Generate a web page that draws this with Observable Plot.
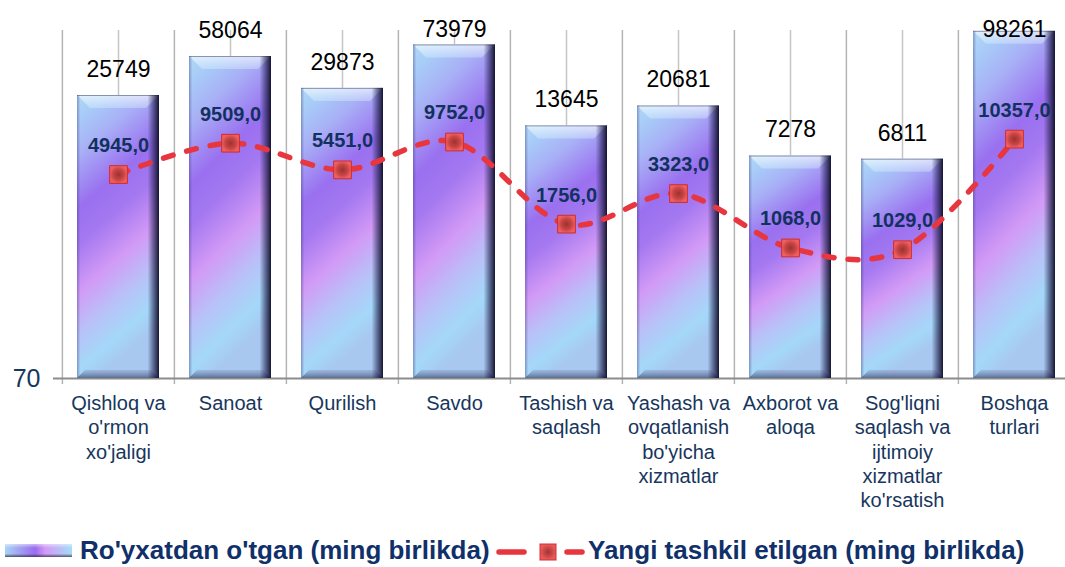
<!DOCTYPE html>
<html><head><meta charset="utf-8">
<script src="https://cdn.jsdelivr.net/npm/d3@7"></script>
<script src="https://cdn.jsdelivr.net/npm/@observablehq/plot@0.6"></script>
<style>
html,body{margin:0;padding:0;background:#fff;}
#wrap{position:relative;width:1065px;height:567px;overflow:hidden;font-family:"Liberation Sans",Arial,sans-serif;}
#chart{position:absolute;left:0;top:0;}
.lg{position:absolute;white-space:nowrap;font-weight:bold;font-size:26px;color:#10306a;line-height:1;}
</style></head><body>
<div id="wrap"><div id="chart"></div>
<svg class="lgsym" style="position:absolute;left:5px;top:543px" width="70" height="16">
  <defs><linearGradient id="lgBar" x1="0" y1="0" x2="1" y2="0">
    <stop offset="0" stop-color="#a8d4f4"/><stop offset="0.45" stop-color="#9a6cf0"/><stop offset="0.6" stop-color="#d49af6"/><stop offset="1" stop-color="#a4dcf8"/></linearGradient>
  <linearGradient id="lgShade" x1="0" y1="0" x2="0" y2="1"><stop offset="0" stop-color="#fff" stop-opacity="0.5"/><stop offset="0.3" stop-color="#fff" stop-opacity="0"/><stop offset="0.75" stop-color="#223" stop-opacity="0"/><stop offset="1" stop-color="#223" stop-opacity="0.7"/></linearGradient></defs>
  <rect x="0" y="1" width="67" height="13" fill="url(#lgBar)"/><rect x="0" y="1" width="67" height="13" fill="url(#lgShade)"/>
</svg>
<div class="lg" style="left:80px;top:537px">Ro'yxatdan o'tgan (ming birlikda)</div>
<svg style="position:absolute;left:494px;top:541px" width="95" height="24">
  <defs><radialGradient id="lgMk"><stop offset="0" stop-color="#a03434"/><stop offset="1" stop-color="#ec5a5a"/></radialGradient></defs>
  <line x1="5" y1="11" x2="30" y2="11" stroke="#e8363e" stroke-width="5.5" stroke-linecap="round"/>
  <line x1="73" y1="11" x2="88" y2="11" stroke="#e8363e" stroke-width="5.5" stroke-linecap="round"/>
  <rect x="46" y="3" width="16" height="16" fill="url(#lgMk)" stroke="#d43030"/>
</svg>
<div class="lg" style="left:588px;top:537px">Yangi tashkil etilgan (ming birlikda)</div>
</div>
<script>
// ---- data ----
const categories = ["Qishloq va o'rmon xo'jaligi", "Sanoat", "Qurilish", "Savdo", "Tashish va saqlash", "Yashash va ovqatlanish bo'yicha xizmatlar", "Axborot va aloqa", "Sog'liqni saqlash va ijtimoiy xizmatlar ko'rsatish", "Boshqa turlari"];
const categoryLabels = ["Qishloq va\no'rmon\nxo'jaligi", "Sanoat", "Qurilish", "Savdo", "Tashish va\nsaqlash", "Yashash va\novqatlanish\nbo'yicha\nxizmatlar", "Axborot va\naloqa", "Sog'liqni\nsaqlash va\nijtimoiy\nxizmatlar\nko'rsatish", "Boshqa\nturlari"];
const registered = [25749, 58064, 29873, 73979, 13645, 20681, 7278, 6811, 98261];
const newlyCreated = [4945.0, 9509.0, 5451.0, 9752.0, 1756.0, 3323.0, 1068.0, 1029.0, 10357.0];
const yTicks = [70];
const yDomain = [70, 100000];

const data = categories.map((c, i) => ({cat: c, label: categoryLabels[i], reg: registered[i], nw: newlyCreated[i]}));
const labelOf = new Map(data.map(d => [d.cat, d.label]));
const navy = "#17365d";
const fmtNew = v => d3.format(".1f")(v).replace(".", ",");

const xRange = [61, 1071];
const yRange = [378, 30];
const step = (xRange[1] - xRange[0]) / categories.length;
const font = "'Liberation Sans', Arial, sans-serif";

// bar value labels are kept inside the chart area (as the source chart does)
const yScale = Plot.scale({y: {type: "log", domain: yDomain, range: yRange}});
const labelGap = 26, labelTopLimit = 20;
const freeLabels = data.filter(d => yScale.apply(d.reg) - labelGap >= labelTopLimit);
const clampedLabels = data.filter(d => yScale.apply(d.reg) - labelGap < labelTopLimit);

const chart = Plot.plot({
  width: 1065, height: 525,
  marginLeft: 53, marginRight: 0, marginTop: 30, marginBottom: 147,
  style: {fontFamily: font, background: "white", overflow: "hidden"},
  x: {type: "band", domain: categories, range: xRange, paddingInner: 0.27, paddingOuter: 0.135, label: null, axis: null},
  y: {type: "log", domain: yDomain, range: yRange, label: null, axis: null},
  marks: [
    // center gridlines (behind bars)
    Plot.ruleX(data, {x: "cat", y1: yDomain[1], y2: "reg", stroke: "#c4c4c4", strokeWidth: 1.5}),
    // category boundary gridlines
    Plot.ruleX(data, {x: "cat", y1: yDomain[1], y2: yDomain[0], dx: -step / 2, stroke: "#b4b4b4", strokeWidth: 1.5, insetBottom: -6}),
    Plot.ruleX(data.slice(-1), {x: "cat", y1: yDomain[1], y2: yDomain[0], dx: step / 2, stroke: "#b4b4b4", strokeWidth: 1.5, insetBottom: -6}),
    // axis line + y tick label
    Plot.ruleY(yTicks, {stroke: "#8c8c8c", strokeWidth: 2}),
    Plot.text(yTicks, {y: d => d, text: d => String(d), frameAnchor: "left", textAnchor: "end", dx: -13, fontSize: 25, fill: navy}),
    Plot.axisX({tickSize: 0, tickPadding: 14, fontSize: 20, lineHeight: 1.22, fill: navy, tickFormat: d => labelOf.get(d), label: null}),
    // bars
    Plot.barY(data, {x: "cat", y1: yDomain[0], y2: "reg", fill: "url(#barGrad)", className: "bars"}),
    Plot.barY(data, {x: "cat", y1: yDomain[0], y2: "reg", fill: "url(#barEdge)"}),
    // bar value labels
    Plot.text(freeLabels, {x: "cat", y: "reg", text: d => String(d.reg), dy: -labelGap, fontSize: 23, fill: "#000"}),
    Plot.text(clampedLabels, {x: "cat", text: d => String(d.reg), frameAnchor: "top", dy: labelTopLimit - yRange[1], fontSize: 23, fill: "#000"}),
    // line
    Plot.line(data, {x: "cat", y: "nw", curve: "cardinal", stroke: "#e8363e", strokeWidth: 5.5, strokeDasharray: "10,14", strokeLinecap: "round"}),
    Plot.dot(data, {x: "cat", y: "nw", symbol: "square", r: 10, fill: "url(#mkGrad)", stroke: "#d02c2c", strokeWidth: 1}),
    Plot.text(data, {x: "cat", y: "nw", text: d => fmtNew(d.nw), dy: -29, fontSize: 20, fontWeight: "bold", fill: "#12315f"})
  ]
});

const svg = d3.select(chart);
const defs = svg.insert("defs", ":first-child");
const g1 = defs.append("linearGradient").attr("id", "barGrad").attr("x1", 0).attr("y1", 0).attr("x2", 0.25).attr("y2", 1);
[[0, "#b0d8f6"], [0.08, "#a8ccf8"], [0.2, "#a8b0f6"], [0.38, "#9a70f0"], [0.5, "#a478f0"], [0.66, "#d29af6"], [0.8, "#b8c2f8"], [0.92, "#a4d8f8"], [1, "#a8c8f0"]]
  .forEach(([o, c]) => g1.append("stop").attr("offset", o).attr("stop-color", c));
const g2 = defs.append("linearGradient").attr("id", "barEdge").attr("x1", 0).attr("y1", 0).attr("x2", 1).attr("y2", 0);
[[0, "#3a3a7a", 0.4], [0.04, "#3a3a7a", 0], [0.86, "#20204a", 0], [0.93, "#20204a", 0.55], [1, "#0c0c28", 0.95]]
  .forEach(([o, c, a]) => g2.append("stop").attr("offset", o).attr("stop-color", c).attr("stop-opacity", a));
const g3 = defs.append("linearGradient").attr("id", "bevTop").attr("x1", 0).attr("y1", 0).attr("x2", 0).attr("y2", 1);
[[0, "#ffffff", 0.65], [1, "#e0f4ff", 0.35]].forEach(([o, c, a]) => g3.append("stop").attr("offset", o).attr("stop-color", c).attr("stop-opacity", a));
const g4 = defs.append("linearGradient").attr("id", "bevBot").attr("x1", 0).attr("y1", 0).attr("x2", 0).attr("y2", 1);
[[0, "#8090c0", 0.35], [1, "#405070", 0.75]].forEach(([o, c, a]) => g4.append("stop").attr("offset", o).attr("stop-color", c).attr("stop-opacity", a));
const rg = defs.append("radialGradient").attr("id", "mkGrad");
[[0, "#9c3232"], [0.6, "#c84444"], [1, "#ee6060"]].forEach(([o, c]) => rg.append("stop").attr("offset", o).attr("stop-color", c));

// bevels derived from the rendered bar rects
svg.selectAll("g.bars rect").each(function () {
  const r = d3.select(this);
  const x = +r.attr("x"), y = +r.attr("y"), w = +r.attr("width"), h = +r.attr("height");
  const g = d3.select(this.parentNode);
  const bt = 13, bb = 8;
  g.append("polygon").attr("points", `${x},${y} ${x + w},${y} ${x + w - bt},${y + bt} ${x + bt},${y + bt}`).attr("fill", "url(#bevTop)");
  g.append("line").attr("x1", x).attr("x2", x + w).attr("y1", y + 0.5).attr("y2", y + 0.5).attr("stroke", "#8890b0").attr("stroke-width", 1);
  g.append("polygon").attr("points", `${x + bb},${y + h - bb} ${x + w - bb},${y + h - bb} ${x + w},${y + h} ${x},${y + h}`).attr("fill", "url(#bevBot)");
});

document.getElementById("chart").appendChild(chart);
</script>
</body></html>
